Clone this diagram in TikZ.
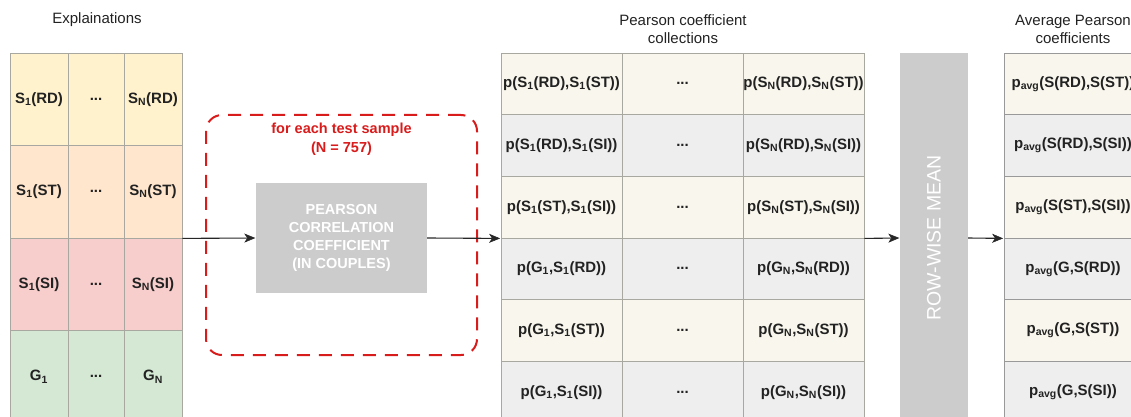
\documentclass[tikz,border=0pt]{standalone}
\usepackage{fontspec}
\setmainfont{Liberation Sans}
\usetikzlibrary{arrows.meta}
\definecolor{cYel}{HTML}{FFF2CC}
\definecolor{cOra}{HTML}{FFE6CC}
\definecolor{cRed}{HTML}{F8CECC}
\definecolor{cGrn}{HTML}{D5E8D4}
\definecolor{cCream}{HTML}{F9F7ED}
\definecolor{cGray}{HTML}{EEEEEE}
\definecolor{cBox}{HTML}{CCCCCC}
\definecolor{cBorder}{HTML}{A8A8A0}
\definecolor{cLoop}{HTML}{D81B1B}
\definecolor{cText}{HTML}{222222}
\newcommand\sbx[1]{\textsubscript{#1}}
\begin{document}
\begin{tikzpicture}[x=1pt,y=-1pt,
  cellbase/.style={draw=cBorder, line width=0.8pt, inner sep=0pt, text=cText,
    font=\fontsize{15}{17}\selectfont\bfseries},
  lcell/.style={cellbase, minimum height=92.5},
  mcell/.style={cellbase, minimum width=121, minimum height=61.67},
  rcell/.style={cellbase, draw=gray!80, minimum width=138, minimum height=61.67},
  title/.style={align=center, text=cText, font=\fontsize{15}{18}\selectfont},
  graybox/.style={fill=cBox, draw=none, text=white, align=center, inner sep=0pt},
  flow/.style={draw=black!85, line width=1.1pt, shorten >=0.5pt,
    -{Stealth[length=11pt,width=9pt,inset=3pt,line width=0.5pt]}}
]
\useasboundingbox (0,0) rectangle (1131,417);
\clip (0,0) rectangle (1131,417);

% titles
\node[title] (t1) at (97,20) {Explainations};
\node[title] (t2) at (683,29) {Pearson coefficient\\collections};
\node[title] (t3) at (1073,29) {Average Pearson\\coefficients};

% left grid
\node[lcell, fill=cYel, minimum width=58] (L11) at (39,99.25) {S\sbx{1}(RD)};
\node[lcell, fill=cYel, minimum width=56] (L12) at (96,99.25) {...};
\node[lcell, fill=cYel, minimum width=58] (L13) at (153,99.25) {S\sbx{N}(RD)};
\node[lcell, fill=cOra, minimum width=58] (L21) at (39,191.75) {S\sbx{1}(ST)};
\node[lcell, fill=cOra, minimum width=56] (L22) at (96,191.75) {...};
\node[lcell, fill=cOra, minimum width=58] (L23) at (153,191.75) {S\sbx{N}(ST)};
\node[lcell, fill=cRed, minimum width=58] (L31) at (39,284.25) {S\sbx{1}(SI)};
\node[lcell, fill=cRed, minimum width=56] (L32) at (96,284.25) {...};
\node[lcell, fill=cRed, minimum width=58] (L33) at (153,284.25) {S\sbx{N}(SI)};
\node[lcell, fill=cGrn, minimum width=58] (L41) at (39,376.75) {G\sbx{1}};
\node[lcell, fill=cGrn, minimum width=56] (L42) at (96,376.75) {...};
\node[lcell, fill=cGrn, minimum width=58] (L43) at (153,376.75) {G\sbx{N}};

% loop box
\node[draw=cLoop, line width=2pt, dash pattern=on 13pt off 9pt, rounded corners=16pt,
      minimum width=271, minimum height=240, inner sep=0pt] (loop) at (341.5,235) {};
\node[align=center, text=cLoop, font=\fontsize{14.5}{19}\selectfont\bfseries] (looplbl) at (341.5,139.5)
  {for each test sample\\(N = 757)};
\node[graybox, minimum width=171, minimum height=110,
      font=\fontsize{14.5}{18}\selectfont\bfseries] (pcc) at (341.5,238)
  {PEARSON\\CORRELATION\\COEFFICIENT\\(IN COUPLES)};

% middle grid
\node[mcell, fill=cCream] (M11) at (561.5,83.83) {p(S\sbx{1}(RD),S\sbx{1}(ST))};
\node[mcell, fill=cCream] (M12) at (682.5,83.83) {...};
\node[mcell, fill=cCream] (M13) at (803.5,83.83) {p(S\sbx{N}(RD),S\sbx{N}(ST))};
\node[mcell, fill=cGray] (M21) at (561.5,145.5) {p(S\sbx{1}(RD),S\sbx{1}(SI))};
\node[mcell, fill=cGray] (M22) at (682.5,145.5) {...};
\node[mcell, fill=cGray] (M23) at (803.5,145.5) {p(S\sbx{N}(RD),S\sbx{N}(SI))};
\node[mcell, fill=cCream] (M31) at (561.5,207.17) {p(S\sbx{1}(ST),S\sbx{1}(SI))};
\node[mcell, fill=cCream] (M32) at (682.5,207.17) {...};
\node[mcell, fill=cCream] (M33) at (803.5,207.17) {p(S\sbx{N}(ST),S\sbx{N}(SI))};
\node[mcell, fill=cGray] (M41) at (561.5,268.83) {p(G\sbx{1},S\sbx{1}(RD))};
\node[mcell, fill=cGray] (M42) at (682.5,268.83) {...};
\node[mcell, fill=cGray] (M43) at (803.5,268.83) {p(G\sbx{N},S\sbx{N}(RD))};
\node[mcell, fill=cCream] (M51) at (561.5,330.5) {p(G\sbx{1},S\sbx{1}(ST))};
\node[mcell, fill=cCream] (M52) at (682.5,330.5) {...};
\node[mcell, fill=cCream] (M53) at (803.5,330.5) {p(G\sbx{N},S\sbx{N}(ST))};
\node[mcell, fill=cGray] (M61) at (561.5,392.17) {p(G\sbx{1},S\sbx{1}(SI))};
\node[mcell, fill=cGray] (M62) at (682.5,392.17) {...};
\node[mcell, fill=cGray] (M63) at (803.5,392.17) {p(G\sbx{N},S\sbx{N}(SI))};

% row-wise mean
\node[graybox, minimum width=68, minimum height=370] (rwm) at (934,238) {};
\node[text=white, rotate=90, font=\fontsize{19.5}{22}\selectfont] (rwmlbl) at (rwm.center) {ROW-WISE MEAN};

% right grid
\node[rcell, fill=cCream] (R1) at (1073,83.83) {p\sbx{avg}(S(RD),S(ST))};
\node[rcell, fill=cGray] (R2) at (1073,145.5) {p\sbx{avg}(S(RD),S(SI))};
\node[rcell, fill=cCream] (R3) at (1073,207.17) {p\sbx{avg}(S(ST),S(SI))};
\node[rcell, fill=cGray] (R4) at (1073,268.83) {p\sbx{avg}(G,S(RD))};
\node[rcell, fill=cCream] (R5) at (1073,330.5) {p\sbx{avg}(G,S(ST))};
\node[rcell, fill=cGray] (R6) at (1073,392.17) {p\sbx{avg}(G,S(SI))};

% connectors
\draw[flow] (L23.south east) -- (pcc.west);
\draw[flow] (pcc.east) -- (M31.south west);
\draw[flow] (M33.south east) -- (rwm.west);
\draw[flow] (rwm.east) -- (R3.south west);
\end{tikzpicture}
\end{document}
